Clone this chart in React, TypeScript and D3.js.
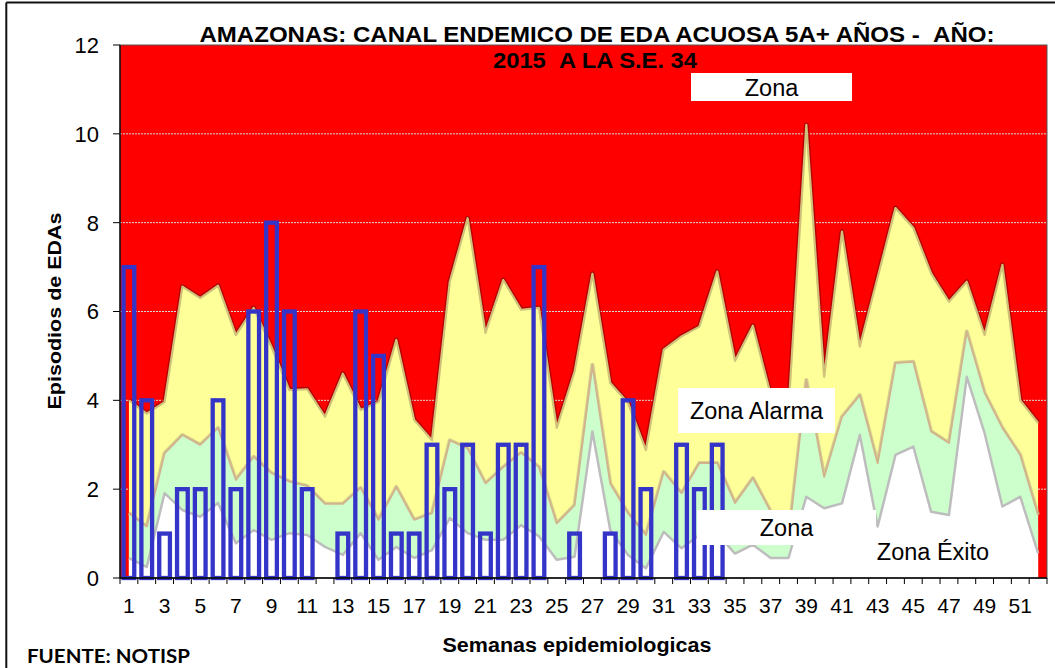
import React, { useEffect, useRef } from "react";
import * as d3 from "d3";

// semanas epidemiologicas 1..52
const semanas = [
  1, 2, 3, 4, 5, 6, 7, 8, 9, 10, 11, 12, 13, 14, 15, 16, 17, 18, 19, 20, 21, 22, 23, 24, 25, 26,
  27, 28, 29, 30, 31, 32, 33, 34, 35, 36, 37, 38, 39, 40, 41, 42, 43, 44, 45, 46, 47, 48, 49, 50, 51, 52,
];

// casos 2015 hasta la S.E. 34
const casos2015 = [7, 4, 1, 2, 2, 4, 2, 6, 8, 6, 2, 0, 1, 6, 5, 1, 1, 3, 2, 3, 1, 3, 3, 7, 0, 1, 0, 1, 4, 2, 0, 3, 2, 3];

// limite superior zona exito (percentil 25)
const limiteExito = [
  0.45, 0.25, 1.91, 1.53, 1.38, 1.69, 0.78, 1.08, 0.86, 1.01, 0.97, 0.7, 0.52, 1.01, 0.41, 0.7, 0.45, 0.63,
  1.35, 1.01, 0.86, 0.86, 1.19, 0.94, 0.41, 0.48, 3.3, 1.08, 0.52, 0.22, 1.04, 0.67, 0.97, 1.0, 0.55, 0.75,
  0.45, 0.45, 1.83, 1.57, 1.68, 3.22, 1.16, 2.77, 2.96, 1.49, 1.42, 4.53, 3.26, 1.61, 1.83, 0.56,
];

// limite superior zona seguridad (mediana)
const limiteSeguridad = [
  1.46, 1.16, 2.81, 3.22, 3.0, 3.38, 2.21, 2.73, 2.36, 2.17, 2.07, 1.67, 1.67, 2.03, 1.31, 2.05, 1.31, 1.46,
  3.1, 2.92, 2.13, 2.5, 2.82, 2.5, 1.23, 1.64, 4.8, 2.13, 1.46, 0.97, 2.39, 1.91, 2.59, 2.59, 1.69, 2.25,
  1.5, 0.9, 4.46, 2.28, 3.63, 4.12, 2.59, 4.84, 4.87, 3.3, 3.04, 5.55, 4.17, 3.38, 2.77, 1.42,
];

// limite superior zona alarma (percentil 75)
const limiteAlarma = [
  4.0, 3.7, 3.96, 6.56, 6.3, 6.58, 5.47, 6.08, 5.2, 4.23, 4.25, 3.63, 4.6, 3.78, 3.96, 5.36, 3.56, 3.1,
  6.67, 8.1, 5.52, 6.71, 6.04, 6.08, 3.38, 4.65, 6.85, 4.39, 3.94, 2.88, 5.14, 5.44, 5.66, 6.9, 4.89, 5.68,
  4.13, 3.8, 10.2, 4.53, 7.8, 5.21, 6.77, 8.33, 7.88, 6.86, 6.22, 6.67, 5.47, 7.05, 4.0, 3.49,
];

const yTicks = [0, 2, 4, 6, 8, 10, 12];
const xTickLabels = [1, 3, 5, 7, 9, 11, 13, 15, 17, 19, 21, 23, 25, 27, 29, 31, 33, 35, 37, 39, 41, 43, 45, 47, 49, 51];

const App = () => {
  const svgRef = useRef(null);

  useEffect(() => {
    const svg = d3.select(svgRef.current);
    svg.selectAll("*").remove();

    const width = 1055;
    const height = 668;
    const plot = { left: 120, right: 1047, top: 45, bottom: 578 };

    const x = d3.scaleBand().domain(semanas).range([plot.left, plot.right]).padding(0);
    const y = d3.scaleLinear().domain([0, 12]).range([plot.bottom, plot.top]);
    const cx = (w) => x(w) + x.bandwidth() / 2;

    svg.attr("width", width).attr("height", height);

    svg.append("rect").attr("width", width).attr("height", height).attr("fill", "#fff");

    // marco del grafico
    svg.append("line").attr("x1", 6.3).attr("x2", 6.3).attr("y1", 2.5).attr("y2", height)
      .attr("stroke", "#111").attr("stroke-width", 2);
    svg.append("line").attr("x1", 6.3).attr("x2", width).attr("y1", 2.5).attr("y2", 2.5)
      .attr("stroke", "#111").attr("stroke-width", 2);

    // zona epidemia = fondo rojo
    svg.append("rect")
      .attr("x", plot.left).attr("y", plot.top)
      .attr("width", plot.right - plot.left).attr("height", plot.bottom - plot.top)
      .attr("fill", "#ff0000");

    // grid
    svg.selectAll(".grid")
      .data(yTicks.filter((d) => d > 0 && d < 12))
      .enter()
      .append("line")
      .attr("x1", plot.left).attr("x2", plot.right)
      .attr("y1", (d) => y(d)).attr("y2", (d) => y(d))
      .attr("stroke", "#d8d8d8").attr("stroke-width", 1).attr("stroke-dasharray", "2,1");

    const area = (vals) =>
      d3.area()
        .x((d, i) => cx(semanas[i]))
        .y0(y(0))
        .y1((d) => y(d))(vals);
    const line = (vals) =>
      d3.line()
        .x((d, i) => cx(semanas[i]))
        .y((d) => y(d))(vals);

    // zona alarma
    svg.append("path").attr("d", line(limiteAlarma)).attr("fill", "none")
      .attr("stroke", "#9a0000").attr("stroke-width", 5).attr("stroke-linejoin", "round").attr("opacity", 0.7);
    svg.append("path").attr("d", area(limiteAlarma)).attr("fill", "#ffff99");
    svg.append("path").attr("d", line(limiteAlarma)).attr("fill", "none")
      .attr("stroke", "#cfc07a").attr("stroke-width", 2.2).attr("stroke-linejoin", "round");

    // zona seguridad
    svg.append("path").attr("d", line(limiteSeguridad)).attr("fill", "none")
      .attr("stroke", "#b9b58a").attr("stroke-width", 4).attr("stroke-linejoin", "round").attr("opacity", 0.6);
    svg.append("path").attr("d", area(limiteSeguridad)).attr("fill", "#ccffcc");
    svg.append("path").attr("d", line(limiteSeguridad)).attr("fill", "none")
      .attr("stroke", "#d2b48c").attr("stroke-width", 2).attr("stroke-linejoin", "round");

    // zona exito
    svg.append("path").attr("d", area(limiteExito)).attr("fill", "#ffffff");
    svg.append("path").attr("d", line(limiteExito)).attr("fill", "none")
      .attr("stroke", "#bdbdbd").attr("stroke-width", 2.5).attr("stroke-linejoin", "round");

    // casos 2015
    const bw = x.bandwidth() * 0.6;
    svg.selectAll(".bar")
      .data(casos2015)
      .enter()
      .append("rect")
      .attr("class", "bar")
      .attr("x", (d, i) => cx(semanas[i]) - bw / 2)
      .attr("y", (d) => y(d))
      .attr("width", bw)
      .attr("height", (d) => y(0) - y(d))
      .attr("fill", "none")
      .attr("stroke", "#3434c8")
      .attr("stroke-width", 4.3);

    // borde area de trazado
    svg.append("rect")
      .attr("x", plot.left).attr("y", plot.top)
      .attr("width", plot.right - plot.left).attr("height", plot.bottom - plot.top)
      .attr("fill", "none").attr("stroke", "#555").attr("stroke-width", 1);

    // eje y
    svg.append("line").attr("x1", plot.left).attr("x2", plot.left).attr("y1", plot.top).attr("y2", plot.bottom)
      .attr("stroke", "#000").attr("stroke-width", 1.3);
    svg.selectAll(".ytick")
      .data(yTicks)
      .enter()
      .append("line")
      .attr("x1", plot.left - 7).attr("x2", plot.left)
      .attr("y1", (d) => y(d)).attr("y2", (d) => y(d))
      .attr("stroke", "#000");
    svg.selectAll(".ylab")
      .data(yTicks)
      .enter()
      .append("text")
      .attr("x", 99)
      .attr("y", (d) => y(d))
      .attr("dy", "0.36em")
      .attr("text-anchor", "end")
      .style("font-family", "Liberation Sans, Arial, sans-serif")
      .style("font-size", "22px")
      .text((d) => d);

    // eje x
    svg.append("line").attr("x1", plot.left).attr("x2", plot.right).attr("y1", plot.bottom).attr("y2", plot.bottom)
      .attr("stroke", "#000").attr("stroke-width", 1.3);
    svg.selectAll(".xtick")
      .data(semanas.concat([53]))
      .enter()
      .append("line")
      .attr("x1", (d) => (d <= 52 ? x(d) : plot.right))
      .attr("x2", (d) => (d <= 52 ? x(d) : plot.right))
      .attr("y1", plot.bottom).attr("y2", plot.bottom + 6)
      .attr("stroke", "#000");
    svg.selectAll(".xlab")
      .data(xTickLabels)
      .enter()
      .append("text")
      .attr("x", (d) => cx(d))
      .attr("y", 613)
      .attr("text-anchor", "middle")
      .style("font-family", "Liberation Sans, Arial, sans-serif")
      .style("font-size", "21px")
      .text((d) => d);

    // titulos
    const title = svg.append("g")
      .style("font-family", "Liberation Sans, Arial, sans-serif")
      .style("font-weight", "bold");
    title.append("text").attr("x", 597).attr("y", 42).attr("text-anchor", "middle")
      .style("font-size", "22.5px").attr("textLength", 795).attr("lengthAdjust", "spacingAndGlyphs")
      .text("AMAZONAS: CANAL ENDEMICO DE EDA ACUOSA 5A+ AÑOS - \u00a0AÑO:");
    title.append("text").attr("x", 595).attr("y", 68).attr("text-anchor", "middle")
      .style("font-size", "22.5px").attr("textLength", 204).attr("lengthAdjust", "spacingAndGlyphs")
      .text("2015 \u00a0A LA S.E. 34");
    title.append("text").attr("x", 577).attr("y", 652).attr("text-anchor", "middle")
      .style("font-size", "20px").attr("textLength", 269).attr("lengthAdjust", "spacingAndGlyphs")
      .text("Semanas epidemiologicas");
    title.append("text").attr("transform", "translate(61,311) rotate(-90)").attr("text-anchor", "middle")
      .style("font-size", "19px").attr("textLength", 197).attr("lengthAdjust", "spacingAndGlyphs")
      .text("Episodios de EDAs");
    svg.append("text").attr("x", 27).attr("y", 663)
      .style("font-family", "Lato, Open Sans, sans-serif").style("font-weight", "bold")
      .style("font-size", "19px").attr("textLength", 163).attr("lengthAdjust", "spacingAndGlyphs")
      .text("FUENTE: NOTISP");

    // etiquetas de zonas
    const zonas = [
      { text: "Zona", x0: 691, x1: 852, y0: 73, y1: 101, base: 96, box: true },
      { text: "Zona Alarma", x0: 678, x1: 835, y0: 388, y1: 433, base: 419, box: true },
      { text: "Zona", x0: 697, x1: 876, y0: 510, y1: 545, base: 536, box: true },
      { text: "Zona Éxito", x0: 872, x1: 994, y0: 538, y1: 568, base: 560, box: false },
    ];
    const zg = svg.append("g");
    zonas.forEach((z) => {
      if (z.box) {
        zg.append("rect").attr("x", z.x0).attr("y", z.y0)
          .attr("width", z.x1 - z.x0).attr("height", z.y1 - z.y0).attr("fill", "#fff");
      }
      zg.append("text").attr("x", (z.x0 + z.x1) / 2).attr("y", z.base).attr("text-anchor", "middle")
        .style("font-family", "Liberation Sans, Arial, sans-serif").style("font-size", "23.5px")
        .text(z.text);
    });
  }, []);

  return (
    <div style={{ position: "absolute", left: 0, top: 0, width: 1055, height: 668, background: "#fff" }}>
      <svg ref={svgRef} style={{ display: "block" }}></svg>
    </div>
  );
};

export default App;
